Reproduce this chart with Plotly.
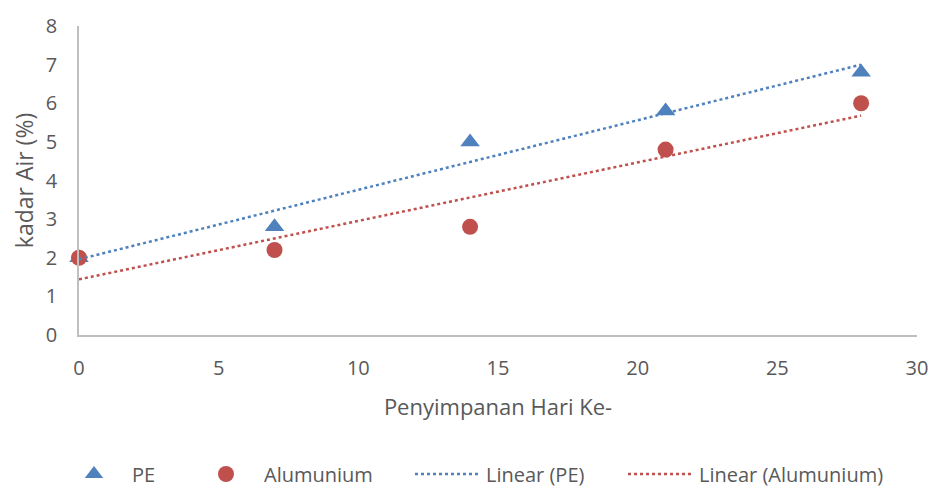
import numpy as np
import plotly.graph_objects as go

# Storage day and moisture content (%) for each packaging type
days = [0, 7, 14, 21, 28]
pe_values = [2.0, 2.8, 5.0, 5.8, 6.8]
alu_values = [2.0, 2.2, 2.8, 4.8, 6.0]

x_ticks = [0, 5, 10, 15, 20, 25, 30]
y_ticks = [0, 1, 2, 3, 4, 5, 6, 7, 8]

BLUE = "#4F81BD"
RED = "#C0504D"
TEXT = "#595959"
AXIS = "#BFBFBF"
FONT = "Open Sans"
W, H = 940, 488


def linear_fit(x, y):
    slope, intercept = np.polyfit(x, y, 1)
    xs = np.array([min(x), max(x)], dtype=float)
    return xs, slope * xs + intercept


pe_fx, pe_fy = linear_fit(days, pe_values)
alu_fx, alu_fy = linear_fit(days, alu_values)

fig = go.Figure()
fig.add_trace(go.Scatter(
    x=days, y=pe_values, mode="markers", name="PE", legend="legend",
    marker=dict(symbol="triangle-up", size=17, color=BLUE),
    cliponaxis=False, showlegend=True,
))
fig.add_trace(go.Scatter(
    x=days, y=alu_values, mode="markers", name="Alumunium", legend="legend2",
    marker=dict(symbol="circle", size=16, color=RED),
    cliponaxis=False, showlegend=True,
))
fig.add_trace(go.Scatter(
    x=pe_fx, y=pe_fy, mode="lines", name="Linear (PE)", legend="legend3",
    line=dict(color=BLUE, width=2.5, dash="dot"),
    cliponaxis=False, showlegend=True,
))
fig.add_trace(go.Scatter(
    x=alu_fx, y=alu_fy, mode="lines", name="Linear (Alumunium)", legend="legend4",
    line=dict(color=RED, width=2.5, dash="dot"),
    cliponaxis=False, showlegend=True,
))


def legend_box(left_px):
    # one single-entry legend per series, laid out along the bottom row
    return dict(
        xref="container", yref="container",
        x=left_px / W, xanchor="left",
        y=1 - 474 / H, yanchor="middle",
        orientation="h", itemwidth=66, borderwidth=0,
        bgcolor="rgba(0,0,0,0)",
        font=dict(family=FONT, size=20, color=TEXT),
    )


fig.update_layout(
    width=W, height=H,
    showlegend=True,
    margin=dict(l=79, r=16, t=21, b=153),
    paper_bgcolor="white", plot_bgcolor="white",
    font=dict(family=FONT, color=TEXT, size=20),
    xaxis=dict(
        range=[0, 30], tickvals=x_ticks, showgrid=False, zeroline=False,
        showline=True, linecolor=AXIS, linewidth=1.5, ticks="",
        ticklabelstandoff=14,
        tickfont=dict(size=20, color=TEXT),
        title=dict(text="Penyimpanan Hari Ke-", font=dict(size=22, color=TEXT), standoff=20),
    ),
    yaxis=dict(
        range=[0, 8], tickvals=y_ticks, showgrid=False, zeroline=False,
        showline=True, linecolor=AXIS, linewidth=1.5, ticks="",
        ticklabelstandoff=16,
        tickfont=dict(size=20, color=TEXT),
        title=dict(text="kadar Air (%)", font=dict(size=23, color=TEXT), standoff=6),
    ),
    legend=legend_box(56),
    legend2=legend_box(188),
    legend3=legend_box(410),
    legend4=legend_box(623),
)

fig.write_html("out.html")
